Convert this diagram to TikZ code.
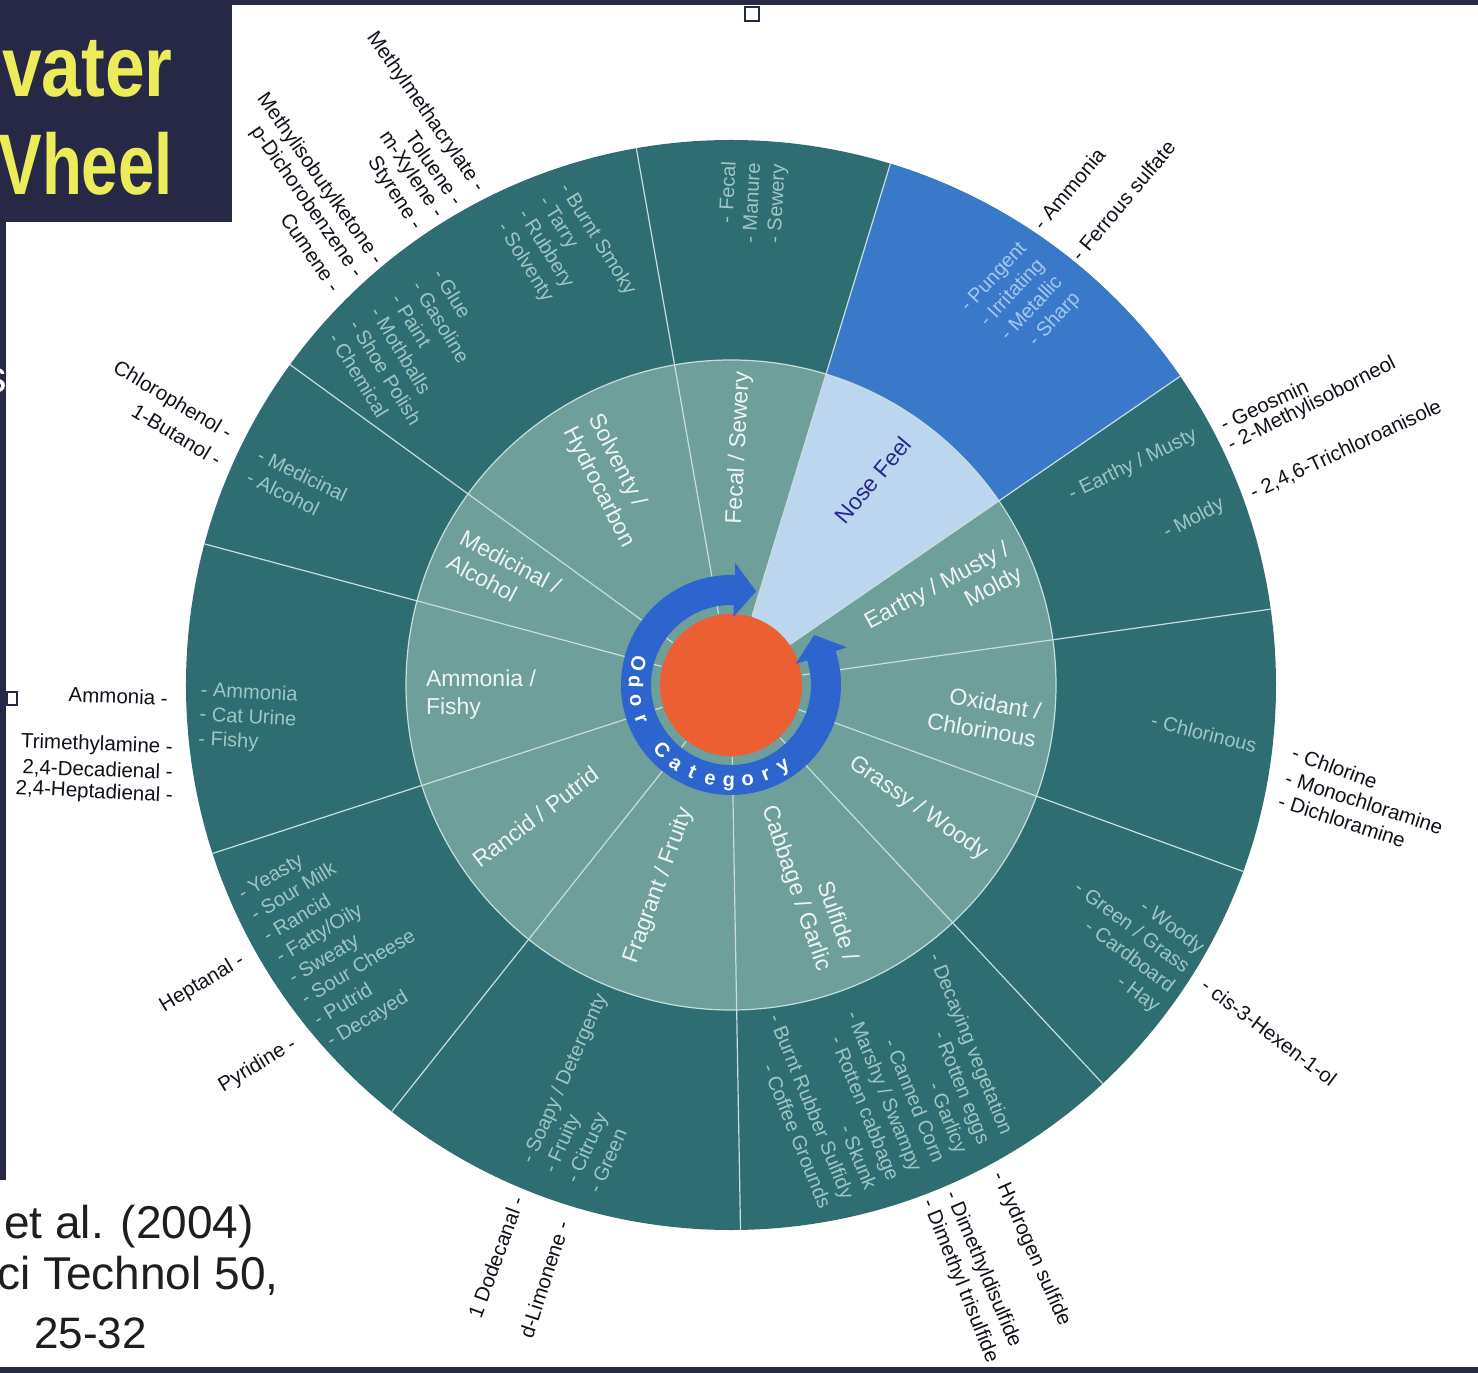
\documentclass[tikz,border=0pt]{standalone}
\usepackage{fontspec}
\setmainfont{Liberation Sans}
\usepackage{tikz}

\definecolor{outerc}{RGB}{46,110,115}
\definecolor{innerc}{RGB}{110,159,154}
\definecolor{nosedark}{RGB}{58,121,201}
\definecolor{noselight}{RGB}{189,214,239}
\definecolor{bandc}{RGB}{45,100,205}
\definecolor{redc}{RGB}{235,95,50}
\definecolor{linec}{RGB}{200,222,222}
\definecolor{catc}{RGB}{238,244,244}
\definecolor{descc}{RGB}{158,198,196}
\definecolor{nosedesc}{RGB}{165,200,235}
\definecolor{cmpc}{RGB}{20,15,25}
\definecolor{navy}{RGB}{38,40,70}
\definecolor{titlec}{RGB}{236,236,90}
\definecolor{nosetext}{RGB}{40,40,140}
\definecolor{refc}{RGB}{30,30,30}

\begin{document}
\begin{tikzpicture}[
		x=1pt, y=1pt,
		spoke/.style={draw=linec, line width=1.2pt},
		cat/.style={text=catc, font=\fontsize{23}{28}\selectfont, inner sep=0pt},
		desc/.style={text=descc, font=\fontsize{20}{24.5}\selectfont, inner sep=0pt},
		cmpR/.style={text=cmpc, font=\fontsize{20.5}{24}\selectfont, anchor=west, inner sep=0pt},
		cmpL/.style={text=cmpc, font=\fontsize{20.5}{24}\selectfont, anchor=east, inner sep=0pt},
		letter/.style={text=white, font=\bfseries\fontsize{20}{24}\selectfont, anchor=base, inner sep=0pt},
		headline/.style={text=titlec, font=\bfseries\fontsize{86}{90}\selectfont, anchor=base east, inner sep=0pt},
		source/.style={text=refc, font=\fontsize{46}{52}\selectfont, anchor=base west, inner sep=0pt}
	]
  \useasboundingbox (-731,-688) rectangle (747,685);
  \fill[white] (-731,-688) rectangle (747,685);

  % slide frame
  \fill[navy] (-731,680) rectangle (747,685);
  \fill[navy] (-731,-682) rectangle (747,-688);
  \fill[navy] (-731,463) rectangle (-499,685);
  \fill[navy] (-731,463) rectangle (-725,-495);
  \begin{scope}
    \clip (-731,463) rectangle (-725,-495);
    \node (bar_s) [text=white, font=\fontsize{45}{50}\selectfont, anchor=east, inner sep=0pt] at (-724,304) {s};
  \end{scope}
  \node (title_1) [headline] at (-558,588) {\scalebox{0.83}[1]{vater}};
  \node (title_2) [headline] at (-558,490) {\scalebox{0.76}[1]{Vheel}};
  \draw[navy, line width=2pt] (14,678) rectangle (28,664);
  \draw[navy, line width=2pt] (-724,-7) rectangle (-714,-20);

  % reference
  \node (ref_1) [source] at (-727,-553) {et al. (2004)};
  \node (ref_2) [source] at (-734,-604) {ci Technol 50,};
  \node (ref_3) [source, font=\fontsize{44}{50}\selectfont] at (-697,-663) {25-32};

  % wheel
  \fill[outerc] (0,0) circle[radius=545];
  \fill[nosedark] (34.5:325) arc[start angle=34.5, end angle=73, radius=325] -- (73:545) arc[start angle=73, end angle=34.5, radius=545] -- cycle;
  \fill[innerc] (0,0) circle[radius=325];
  \fill[noselight] (0,0) -- (34.5:325) arc[start angle=34.5, end angle=73, radius=325] -- cycle;
  \foreach \a in {100,73,34.5,8,-20,-47,-89,-128.5,-162,165,144}
    \draw[spoke] (\a:72) -- (\a:545);
  \draw[spoke] (0,0) circle[radius=325];
  \fill[redc] (0,0) circle[radius=71];
  \fill[bandc] (88:110) arc[start angle=88, end angle=378, radius=110] -- (378:122) -- (31:97)
    -- (378:68) -- (378:80) arc[start angle=378, end angle=88, radius=80] -- (88:68) -- (75:97) -- (88:122) -- cycle;
  \foreach \a/\ch [count=\i] in {167/O,178.3/d,189.6/o,200.9/r,223.5/C,234.8/a,246.1/t,257.4/e,268.7/g,280/o,291.3/r,302.6/y}
    \node (odor_\i) [letter, rotate=\a+90] at (\a:102) {\ch};

  % categories
  \node (cat_fecal) [cat, rotate=87] at (8,237) {Fecal / Sewery};
  \node (cat_nose) [cat, rotate=50, text=nosetext] at (142,205) {Nose Feel};
  \node (cat_earthy) [cat, rotate=28, align=right] at (213,86) {Earthy / Musty /\\Moldy};
  \node (cat_oxidant) [cat, rotate=-10, align=right] at (253,-31) {Oxidant /\\Chlorinous};
  \node (cat_grassy) [cat, rotate=-35] at (187,-123) {Grassy / Woody};
  \node (cat_sulfide) [cat, rotate=-71, align=right] at (78,-199) {Sulfide /\\Cabbage / Garlic};
  \node (cat_fragrant) [cat, rotate=70] at (-72,-201) {Fragrant / Fruity};
  \node (cat_rancid) [cat, rotate=37] at (-195,-132) {Rancid / Putrid};
  \node (cat_ammonia) [cat, align=left] at (-250,-10) {Ammonia /\\Fishy};
  \node (cat_medicinal) [cat, rotate=-28, align=left] at (-227,111) {Medicinal /\\Alcohol};
  \node (cat_solventy) [cat, rotate=-63, align=left] at (-120,204) {Solventy /\\Hydrocarbon};

  % descriptors
  \node (d_glue) [desc, rotate=-58.5, align=left] at (-314,332) {- Glue\\- Gasoline\\- Paint\\- Mothballs\\- Shoe Polish\\- Chemical};
  \node (d_burnt) [desc, rotate=-58, align=left] at (-165,426) {- Burnt Smoky\\- Tarry\\- Rubbery\\- Solventy};
  \node (d_fecal) [desc, rotate=87, align=right] at (22,482) {- Fecal\\- Manure\\- Sewery};
  \node (d_nose) [desc, rotate=47, align=right, text=nosedesc] at (290,382) {- Pungent\\- Irritating\\- Metallic\\- Sharp};
  \node (d_earthy) [desc, rotate=26] at (402,220) {- Earthy / Musty};
  \node (d_moldy) [desc, rotate=28] at (463,166) {- Moldy};
  \node (d_chlor) [desc, rotate=-14] at (473,-48) {- Chlorinous};
  \node (d_grassy) [desc, rotate=-37, align=right] at (393,-253) {- Woody\\- Green / Grass\\- Cardboard\\- Hay};
  \node (d_sulfide) [desc, rotate=-68, align=right] at (149,-394) {- Decaying vegetation\\- Rotten eggs\\- Garlicy\\- Canned Corn\\- Marshy / Swampy\\- Rotten cabbage\\- Skunk\\- Burnt Rubber Sulfidy\\- Coffee Grounds};
  \node (d_fragrant) [desc, rotate=66, align=left] at (-134,-408) {- Soapy / Detergenty\\- Fruity\\- Citrusy\\- Green};
  \node (d_rancid) [desc, rotate=31, align=left] at (-391,-252) {- Yeasty\\- Sour Milk\\- Rancid\\- Fatty/Oily\\- Sweaty\\- Sour Cheese\\- Putrid\\- Decayed};
  \node (d_ammonia) [desc, rotate=-3, align=left] at (-483,-33) {- Ammonia\\- Cat Urine\\- Fishy};
  \node (d_medicinal) [desc, rotate=-26, align=left] at (-434,199) {- Medicinal\\- Alcohol};

  % compounds, right half
  \node (x_ammonia2) [cmpR, rotate=50] at (306,458) {- Ammonia};
  \node (x_ferrous) [cmpR, rotate=50] at (344,427) {- Ferrous sulfate};
  \node (x_geosmin) [cmpR, rotate=25] at (490,260) {- Geosmin};
  \node (x_mib) [cmpR, rotate=27] at (498,238) {- 2-Methylisoborneol};
  \node (x_tca) [cmpR, rotate=25] at (520,191) {- 2,4,6-Trichloroanisole};
  \node (x_chlorine) [cmpR, rotate=-20] at (562,-67) {- Chlorine};
  \node (x_mono) [cmpR, rotate=-18] at (555,-92) {- Monochloramine};
  \node (x_di) [cmpR, rotate=-18] at (548,-115) {- Dichloramine};
  \node (x_hexenol) [cmpR, rotate=-37] at (473,-298) {- cis-3-Hexen-1-ol};
  \node (x_h2s) [cmpR, rotate=-66] at (266,-488) {- Hydrogen sulfide};
  \node (x_dmds) [cmpR, rotate=-67] at (219,-507) {- Dimethyldisulfide};
  \node (x_dmts) [cmpR, rotate=-68] at (196,-515) {- Dimethyl trisulfide};

  % compounds, left half
  \node (x_mma) [cmpL, rotate=-55] at (-251,495) {Methylmethacrylate -};
  \node (x_toluene) [cmpL, rotate=-55] at (-272,482) {Toluene -};
  \node (x_xylene) [cmpL, rotate=-56] at (-292,469) {m-Xylene -};
  \node (x_styrene) [cmpL, rotate=-57] at (-314,456) {Styrene -};
  \node (x_mibk) [cmpL, rotate=-55] at (-353,422) {Methylisobutylketone -};
  \node (x_dcb) [cmpL, rotate=-55] at (-373,409) {p-Dichorobenzene -};
  \node (x_cumene) [cmpL, rotate=-56] at (-395,395) {Cumene -};
  \node (x_chlorophenol) [cmpL, rotate=-31] at (-501,249) {Chlorophenol -};
  \node (x_butanol) [cmpL, rotate=-31] at (-511,224) {1-Butanol -};
  \node (x_ammonia1) [cmpL, rotate=-2] at (-563,-13) {Ammonia -};
  \node (x_tma) [cmpL, rotate=-2] at (-558,-63) {Trimethylamine -};
  \node (x_deca) [cmpL, rotate=-2] at (-558,-88) {2,4-Decadienal -};
  \node (x_hepta) [cmpL, rotate=-3] at (-558,-112) {2,4-Heptadienal -};
  \node (x_heptanal) [cmpL, rotate=31] at (-488,-274) {Heptanal -};
  \node (x_pyridine) [cmpL, rotate=31] at (-436,-358) {Pyridine -};
  \node (x_dodecanal) [cmpL, rotate=70] at (-213,-512) {1 Dodecanal -};
  \node (x_limonene) [cmpL, rotate=72] at (-168,-537) {d-Limonene -};
\end{tikzpicture}
\end{document}
